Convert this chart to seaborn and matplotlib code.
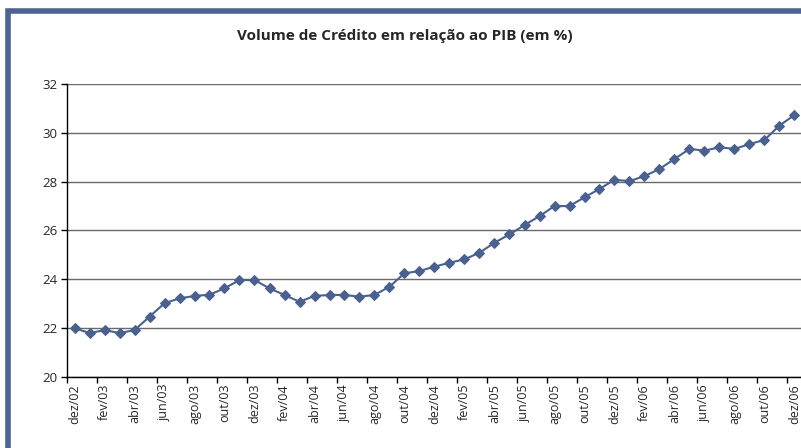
import numpy as np
import pandas as pd
import matplotlib
matplotlib.use("Agg")
import matplotlib.pyplot as plt
import matplotlib.patches as mpatches
import seaborn as sns

# dados mensais dez/02 .. dez/06
credito = [
    22.0, 21.8, 21.92, 21.8, 21.92, 22.47, 23.02, 23.22, 23.32, 23.37, 23.63, 23.97,
    23.97, 23.63, 23.36, 23.08, 23.32, 23.36, 23.36, 23.29, 23.36, 23.70, 24.25, 24.34,
    24.52, 24.68, 24.82, 25.09, 25.50, 25.84, 26.22, 26.59, 27.0, 27.0, 27.36, 27.70,
    28.08, 28.02, 28.23, 28.52, 28.93, 29.34, 29.27, 29.41, 29.34, 29.54, 29.71, 30.30,
    30.73,
]
rotulos = [
    'dez/02', 'fev/03', 'abr/03', 'jun/03', 'ago/03', 'out/03', 'dez/03',
    'fev/04', 'abr/04', 'jun/04', 'ago/04', 'out/04', 'dez/04',
    'fev/05', 'abr/05', 'jun/05', 'ago/05', 'out/05', 'dez/05',
    'fev/06', 'abr/06', 'jun/06', 'ago/06', 'out/06', 'dez/06',
]
titulo = 'Volume de Crédito em relação ao PIB (em %)'

df = pd.DataFrame({'mes': np.arange(len(credito)), 'credito': credito})

sns.set_style('white')
plt.rcParams['font.family'] = ['Open Sans', 'DejaVu Sans']

fig = plt.figure(figsize=(8.01, 4.48), dpi=100)
W, H = 801, 448

# moldura azul
fig.patches.append(mpatches.Rectangle((7.5 / W, -0.2), 1.2, 1 - 10.5 / H + 0.2,
                                      transform=fig.transFigure, fill=False,
                                      edgecolor='#4e6391', linewidth=4, zorder=0))

ax = fig.add_axes([67 / W, (H - 377) / H, (802 - 67) / W, (377 - 84) / H])
cor = '#4a6190'
sns.lineplot(data=df, x='mes', y='credito', ax=ax, color=cor, linewidth=1.5,
             marker='D', markersize=5.5, markeredgecolor=cor, zorder=3)

ax.set_ylim(20, 32)
ax.set_xlim(-0.5, len(credito) - 0.5)
ax.set_yticks([20, 22, 24, 26, 28, 30, 32])
ax.grid(axis='y', color='#6a6a6a', linewidth=1)
ax.set_xlabel('')
ax.set_ylabel('')

ax.set_xticks(np.arange(0, len(credito), 2))
ax.set_xticklabels(rotulos, rotation=90, fontsize=9)
ax.set_xticks(np.arange(-0.5, len(credito), 2), minor=True)
ax.tick_params(axis='x', which='major', length=0, pad=5)
ax.tick_params(axis='x', which='minor', length=4, width=1, color='black', direction='out', bottom=True)
ax.tick_params(axis='y', length=4, width=1, color='black', direction='out', left=True, labelsize=9.5, pad=3)

for s in ['top', 'right']:
    ax.spines[s].set_visible(False)
for s in ['left', 'bottom']:
    ax.spines[s].set_color('black')
    ax.spines[s].set_linewidth(1)

fig.text(405 / W, 1 - 36 / H, titulo, ha='center', va='center', fontsize=11, fontweight='bold')

fig.savefig('out.png', dpi=100)
